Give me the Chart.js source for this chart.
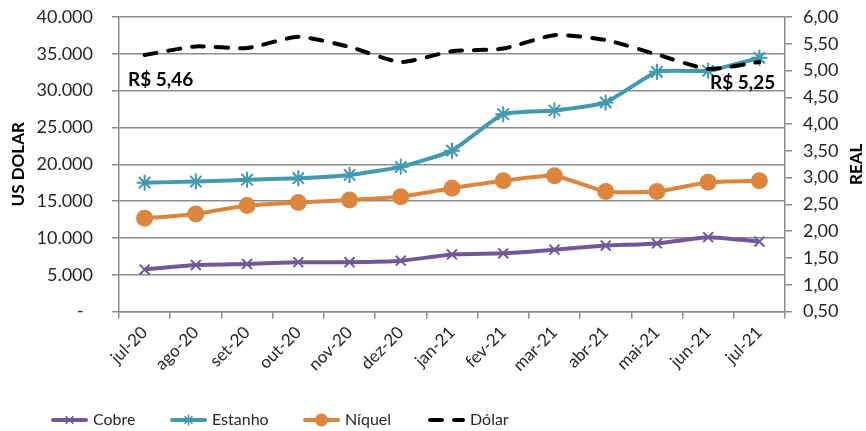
<!DOCTYPE html>
<html>
<head>
<meta charset="utf-8">
<script src="https://cdn.jsdelivr.net/npm/chart.js@4"></script>
<style>
    html, body { margin: 0; padding: 0; background: #fff; }
    #wrap { width: 866px; height: 431px; }
</style>
</head>
<body>
<div id="wrap"><canvas id="metaisChart"></canvas></div>
<script>
const meses = ['jul-20', 'ago-20', 'set-20', 'out-20', 'nov-20', 'dez-20', 'jan-21',
    'fev-21', 'mar-21', 'abr-21', 'mai-21', 'jun-21', 'jul-21'];
const cobre = [5700, 6300, 6450, 6700, 6700, 6900, 7750, 7900, 8400, 8950, 9250, 10100, 9500];
const estanho = [17500, 17650, 17900, 18100, 18550, 19650, 21850, 26800, 27300, 28400, 32550, 32700, 34450];
const niquel = [12650, 13250, 14400, 14800, 15150, 15600, 16750, 17750, 18450, 16300, 16300, 17550, 17750];
const dolar = [5.29, 5.45, 5.42, 5.63, 5.44, 5.16, 5.36, 5.41, 5.66, 5.57, 5.30, 5.03, 5.16];
const rotulosDolar = ['R$ 5,46', 'R$ 5,25'];

const FONT = 'Lato, "DejaVu Sans", sans-serif';
const GRID = '#8c8c8c';

// Function to draw axis titles, dollar labels and legend
const extrasPlugin = {
    id: 'extras',
    afterDraw(chart) {
        const ctx = chart.ctx;
        const area = chart.chartArea;
        const midY = (area.top + area.bottom) / 2;

        ctx.save();
        ctx.fillStyle = '#000';
        ctx.font = 'bold 17px ' + FONT;
        ctx.textAlign = 'center';
        ctx.textBaseline = 'middle';
        [[19, 'US DOLAR'], [857, 'REAL']].forEach(([x, t]) => {
            ctx.save();
            ctx.translate(x, midY);
            ctx.rotate(-Math.PI / 2);
            ctx.fillText(t, 0, 0);
            ctx.restore();
        });

        // labels for first and last dollar values
        ctx.font = 'bold 19px ' + FONT;
        ctx.textAlign = 'left';
        ctx.textBaseline = 'alphabetic';
        ctx.fillText(rotulosDolar[0], area.left + 9, 86);
        ctx.fillText(rotulosDolar[1], area.right - 75, 89);

        // legend
        const y = 420;
        const items = [
            { x: 53, ds: 0, text: 'Cobre', r: 5 },
            { x: 172, ds: 1, text: 'Estanho', r: 5 },
            { x: 305, ds: 2, text: 'Níquel', r: 6.5 },
            { x: 430, ds: 3, text: 'Dólar', r: 0 }
        ];
        items.forEach(it => {
            const ds = chart.data.datasets[it.ds];
            ctx.strokeStyle = ds.borderColor;
            ctx.lineWidth = 4;
            ctx.lineCap = 'round';
            ctx.setLineDash(ds.borderDash || []);
            ctx.beginPath();
            ctx.moveTo(it.x, y);
            ctx.lineTo(it.x + 33, y);
            ctx.stroke();
            ctx.setLineDash([]);
            if (it.r > 0) {
                ctx.fillStyle = ds.pointBackgroundColor;
                ctx.strokeStyle = ds.pointBorderColor;
                ctx.lineWidth = 1.5;
                if (ds.pointStyle === 'circle') {
                    ctx.beginPath();
                    ctx.arc(it.x + 16.5, y, it.r, 0, Math.PI * 2);
                    ctx.fill();
                } else {
                    Chart.helpers.drawPoint(ctx, {
                        pointStyle: ds.pointStyle,
                        radius: it.r,
                        rotation: 0,
                        borderWidth: 1.5
                    }, it.x + 16.5, y);
                }
            }
            ctx.fillStyle = '#262626';
            ctx.font = '16px ' + FONT;
            ctx.textBaseline = 'middle';
            ctx.fillText(it.text, it.x + 40, y);
        });
        ctx.restore();
    }
};

// keep the tick label padding from pushing the plot area down
function fixVertical(width) {
    return scale => {
        scale.width = width;
        scale.paddingTop = 0;
        scale.paddingBottom = 0;
    };
}

function createMetaisChart() {
    const ctx = document.getElementById('metaisChart').getContext('2d');
    new Chart(ctx, {
        type: 'line',
        data: {
            labels: meses,
            datasets: [{
                label: 'Cobre',
                data: cobre,
                yAxisID: 'y',
                borderColor: '#71589a',
                pointStyle: 'crossRot',
                pointRadius: 7,
                pointBorderWidth: 2,
                pointBorderColor: '#71589a',
                pointBackgroundColor: '#71589a',
                borderWidth: 4,
                tension: 0.15,
                order: 3
            }, {
                label: 'Estanho',
                data: estanho,
                yAxisID: 'y',
                borderColor: '#4299b0',
                pointStyle: 'star',
                pointRadius: 8,
                pointBorderWidth: 2,
                pointBorderColor: '#4299b0',
                pointBackgroundColor: '#4299b0',
                borderWidth: 4,
                tension: 0.15,
                order: 2
            }, {
                label: 'Níquel',
                data: niquel,
                yAxisID: 'y',
                borderColor: '#dd853d',
                pointStyle: 'circle',
                pointRadius: 8.5,
                pointBorderWidth: 0,
                pointBorderColor: '#dd853d',
                pointBackgroundColor: '#dd853d',
                borderWidth: 4,
                tension: 0.15,
                order: 1
            }, {
                label: 'Dólar',
                data: dolar,
                yAxisID: 'y1',
                borderColor: '#000000',
                borderDash: [12, 12],
                borderCapStyle: 'round',
                pointRadius: 0,
                borderWidth: 4,
                tension: 0.2,
                order: 0
            }]
        },
        options: {
            responsive: false,
            animation: false,
            events: [],
            layout: { padding: { top: 17, bottom: 0, left: 0, right: 0 } },
            scales: {
                x: {
                    offset: true,
                    grid: {
                        offset: true,
                        drawOnChartArea: false,
                        color: GRID,
                        lineWidth: 1.5,
                        tickLength: 7
                    },
                    border: { color: GRID, width: 1.5 },
                    ticks: {
                        color: '#262626',
                        font: { family: FONT, size: 17 },
                        minRotation: 45,
                        maxRotation: 45,
                        padding: 4,
                        autoSkip: false
                    },
                    afterFit(scale) { scale.height = 119.5; }
                },
                y: {
                    position: 'left',
                    min: 0,
                    max: 40000,
                    ticks: {
                        stepSize: 5000,
                        color: '#262626',
                        font: { family: FONT, size: 18 },
                        padding: 19,
                        callback: v => v === 0 ? '-  ' : v.toLocaleString('pt-BR')
                    },
                    grid: { color: GRID, lineWidth: 1.5, tickLength: 7 },
                    border: { color: GRID, width: 1.5 },
                    afterFit: fixVertical(119)
                },
                y1: {
                    position: 'right',
                    min: 0.5,
                    max: 6,
                    ticks: {
                        stepSize: 0.5,
                        color: '#262626',
                        font: { family: FONT, size: 18 },
                        padding: 11,
                        callback: v => v.toFixed(2).replace('.', ',')
                    },
                    grid: { drawOnChartArea: false, color: GRID, lineWidth: 1.5, tickLength: 7 },
                    border: { color: GRID, width: 1.5 },
                    afterFit: fixVertical(81)
                }
            },
            plugins: {
                legend: { display: false },
                tooltip: { enabled: false },
                title: { display: false }
            }
        },
        plugins: [extrasPlugin]
    });
}

const canvas = document.getElementById('metaisChart');
canvas.width = 866;
canvas.height = 431;
canvas.style.width = '866px';
canvas.style.height = '431px';
createMetaisChart();
</script>
</body>
</html>
